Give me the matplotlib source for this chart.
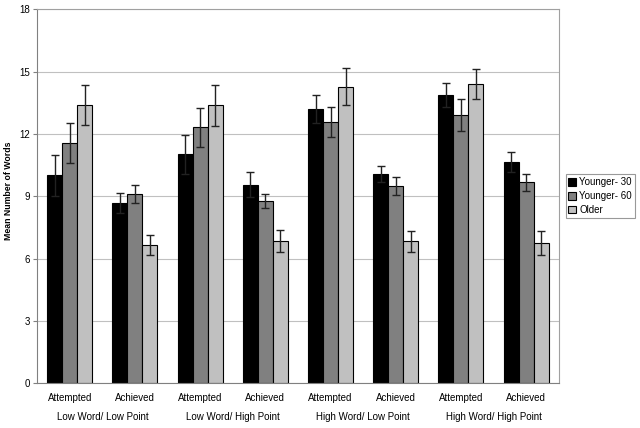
import numpy as np
import matplotlib
matplotlib.use("Agg")
import matplotlib.pyplot as plt
from matplotlib.transforms import blended_transform_factory

plt.rcParams['font.family'] = ['Liberation Sans', 'DejaVu Sans']

# data
conditions = ['Attempted', 'Achieved'] * 4
groups = ['Low Word/ Low Point', 'Low Word/ High Point',
          'High Word/ Low Point', 'High Word/ High Point']
series = ['Younger- 30', 'Younger- 60', 'Older']

younger30 = [10.0, 8.66, 11.02, 9.56, 13.22, 10.07, 13.88, 10.67]
younger60 = [11.55, 9.09, 12.32, 8.77, 12.56, 9.49, 12.9, 9.67]
older = [13.38, 6.63, 13.38, 6.83, 14.28, 6.83, 14.39, 6.73]

younger30_err = [0.97, 0.48, 0.93, 0.62, 0.68, 0.39, 0.59, 0.48]
younger60_err = [0.96, 0.43, 0.95, 0.35, 0.72, 0.45, 0.77, 0.4]
older_err = [0.96, 0.48, 1.0, 0.53, 0.89, 0.5, 0.72, 0.58]

colours = ['#000000', '#808080', '#C0C0C0']

fig = plt.figure(figsize=(6.4, 4.28), dpi=100)
ax = fig.add_axes([0.058, 0.105, 0.815, 0.873])

x = np.arange(len(conditions))
w = 0.23
all_vals = [younger30, younger60, older]
all_errs = [younger30_err, younger60_err, older_err]
for k in range(3):
    ax.bar(x + (k - 1) * w, all_vals[k], w, color=colours[k], edgecolor='black',
           linewidth=0.8, label=series[k], zorder=2,
           yerr=all_errs[k], error_kw=dict(ecolor='#222222', elinewidth=1,
                                           capsize=3, capthick=1, zorder=3))

ax.set_xlim(-0.5, 7.5)
ax.set_ylim(0, 18)
ax.set_yticks(range(0, 19, 3))
ax.yaxis.grid(True, color='#C0C0C0', linewidth=0.8)
ax.set_axisbelow(True)
for s in ['top', 'right']:
    ax.spines[s].set_color('#A0A0A0')
for s in ['left', 'bottom']:
    ax.spines[s].set_color('#808080')
ax.tick_params(axis='y', labelsize=7, length=3, color='#808080', pad=2)
ax.set_xticks(x)
ax.set_xticklabels(conditions, fontsize=7)
ax.tick_params(axis='x', length=0, pad=7)
ax.set_ylabel('Mean Number of Words', fontsize=6.3, fontweight='bold')
ax.yaxis.set_label_coords(-0.046, 0.515)

trans = blended_transform_factory(ax.transData, ax.transAxes)
for i, g in enumerate(groups):
    ax.text(2 * i + 0.5, -0.09, g, transform=trans, ha='center', va='center', fontsize=7)

leg = ax.legend(loc='center left', bbox_to_anchor=(1.013, 0.5), fontsize=7,
                frameon=True, fancybox=False, edgecolor='#808080',
                handlelength=0.8, handleheight=0.8, handletextpad=0.3,
                borderpad=0.3, labelspacing=0.4, borderaxespad=0)
leg.get_frame().set_linewidth(0.8)

fig.savefig('out.png', dpi=100)
